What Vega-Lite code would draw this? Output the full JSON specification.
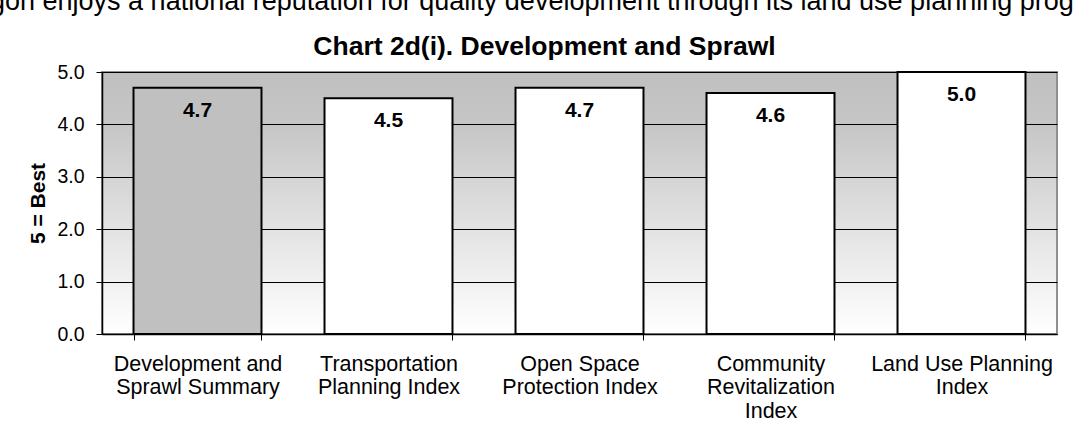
{
  "$schema": "https://vega.github.io/schema/vega-lite/v6.json",
  "width": 955,
  "height": 262,
  "autosize": "none",
  "padding": {"left": 102, "top": 72, "right": 16, "bottom": 108},
  "background": "#ffffff",
  "title": {
    "text": "Oregon enjoys a national reputation for quality development through its land use planning program",
    "anchor": "start",
    "frame": "group",
    "dx": -157,
    "offset": 17,
    "fontSize": 27,
    "fontWeight": "normal",
    "font": "Liberation Sans",
    "color": "#000000"
  },
  "data": {
    "values": [
      {"category": "Development and Sprawl Summary", "kind": "Summary", "score": 4.7},
      {"category": "Transportation Planning Index", "kind": "Index", "score": 4.5},
      {"category": "Open Space Protection Index", "kind": "Index", "score": 4.7},
      {"category": "Community Revitalization Index", "kind": "Index", "score": 4.6},
      {"category": "Land Use Planning Index", "kind": "Index", "score": 5.0}
    ]
  },
  "resolve": {"axis": {"x": "independent"}},
  "layer": [
    {
      "mark": {"type": "bar", "stroke": "#000000", "strokeWidth": 2},
      "encoding": {
        "x": {
          "field": "category",
          "type": "nominal",
          "sort": null,
          "scale": {"paddingInner": 0.33, "paddingOuter": 0.165},
          "axis": {
            "orient": "bottom",
            "title": null,
            "labelAngle": 0,
            "tickBand": "extent",
            "domainColor": "#000000",
            "domainWidth": 1.5,
            "tickColor": "#000000",
            "tickSize": 6,
            "labelFontSize": 21.5,
            "labelFont": "Liberation Sans",
            "labelColor": "#000000",
            "labelPadding": 13,
            "labelLineHeight": 23.5,
            "labelLimit": 0,
            "grid": false,
            "labelExpr": "datum.value == 'Development and Sprawl Summary' ? ['Development and', 'Sprawl Summary'] : datum.value == 'Transportation Planning Index' ? ['Transportation', 'Planning Index'] : datum.value == 'Open Space Protection Index' ? ['Open Space', 'Protection Index'] : datum.value == 'Community Revitalization Index' ? ['Community', 'Revitalization', 'Index'] : datum.value == 'Land Use Planning Index' ? ['Land Use Planning', 'Index'] : ''"
          }
        },
        "y": {
          "field": "score",
          "type": "quantitative",
          "scale": {"domain": [0, 5], "nice": false},
          "axis": {
            "title": "5 = Best",
            "titleFontSize": 21,
            "titleFontWeight": "bold",
            "titleFont": "Liberation Sans",
            "titleColor": "#000000",
            "titlePadding": 8,
            "values": [0, 1, 2, 3, 4, 5],
            "format": ".1f",
            "labelFontSize": 19.5,
            "labelFont": "Liberation Sans",
            "labelColor": "#000000",
            "labelPadding": 12,
            "domainColor": "#000000",
            "domainWidth": 1.5,
            "tickColor": "#000000",
            "tickSize": 6,
            "grid": true,
            "gridColor": "#000000",
            "gridWidth": 1
          }
        },
        "color": {
          "field": "kind",
          "type": "nominal",
          "scale": {"domain": ["Summary", "Index"], "range": ["#c0c0c0", "#ffffff"]},
          "legend": null
        }
      }
    },
    {
      "mark": {
        "type": "text",
        "baseline": "middle",
        "dy": 23,
        "fontSize": 21,
        "fontWeight": "bold",
        "font": "Liberation Sans",
        "color": "#000000"
      },
      "encoding": {
        "x": {
          "field": "category",
          "type": "nominal",
          "sort": null,
          "axis": {
            "orient": "top",
            "title": "Chart 2d(i). Development and Sprawl",
            "titleFontSize": 26.5,
            "titleFontWeight": "bold",
            "titleFont": "Liberation Sans",
            "titleColor": "#000000",
            "titlePadding": 12,
            "titleX": 442,
            "labels": false,
            "ticks": false,
            "domain": false,
            "grid": false
          }
        },
        "y": {"field": "score", "type": "quantitative"},
        "text": {"field": "score", "type": "quantitative", "format": ".1f"}
      }
    }
  ],
  "config": {
    "view": {
      "stroke": "#909090",
      "strokeWidth": 2,
      "fill": {
        "gradient": "linear",
        "x1": 0, "y1": 0, "x2": 0, "y2": 1,
        "stops": [
          {"offset": 0, "color": "#c0c0c0"},
          {"offset": 0.2, "color": "#c6c6c6"},
          {"offset": 1, "color": "#ffffff"}
        ]
      }
    }
  }
}
